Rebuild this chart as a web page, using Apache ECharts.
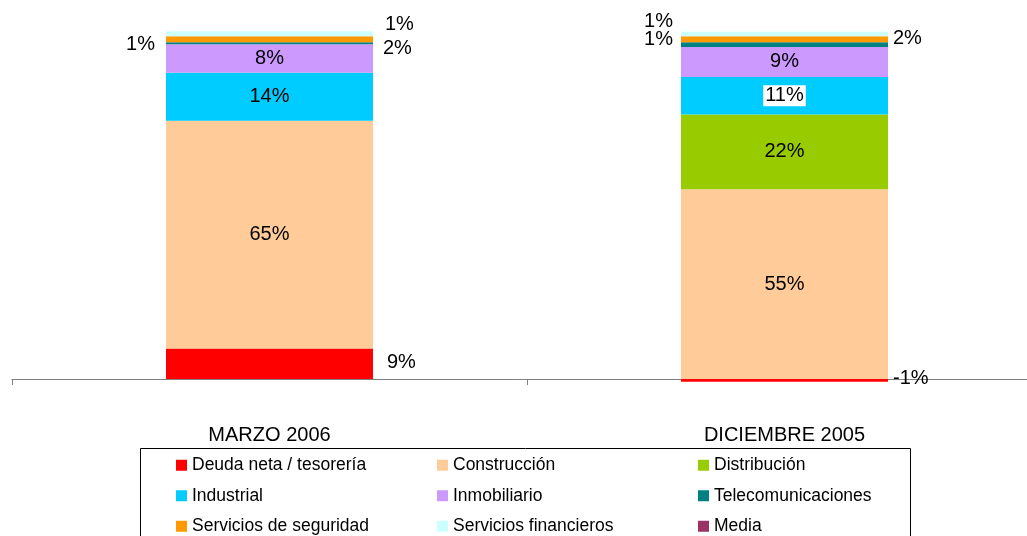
<!DOCTYPE html>
<html>
<head>
<meta charset="utf-8">
<script src="https://cdn.jsdelivr.net/npm/echarts@6/dist/echarts.min.js"></script>
<style>
  html, body { margin: 0; padding: 0; background: #fff; }
  #chart { width: 1027px; height: 536px; }
</style>
</head>
<body>
<div id="chart"></div>
<script>
// categorías
var categories = ['MARZO 2006', 'DICIEMBRE 2005'];

// valores (%)
var deuda = [8.8, -0.8];
var construccion = [65.4, 54.5];
var distribucion = [null, 21.5];
var industrial = [13.8, 10.8];
var inmobiliario = [8.2, 8.6];
var telecomunicaciones = [0.6, 1.4];
var seguridad = [1.7, 1.7];
var financieros = [1.4, 1.3];
var media = [null, null];

var seriesNames = ['Deuda neta / tesorería', 'Construcción', 'Distribución', 'Industrial',
    'Inmobiliario', 'Telecomunicaciones', 'Servicios de seguridad', 'Servicios financieros', 'Media'];
var seriesData = [deuda, construccion, distribucion, industrial, inmobiliario,
    telecomunicaciones, seguridad, financieros, media];
var colors = ['#FF0000', '#FFCC99', '#99CC00', '#00CCFF', '#CC99FF', '#008080', '#FF9900', '#CCFFFF', '#993366'];

// colocación de etiquetas fuera de la barra (null = dentro)
var labelSpec = {
    'Deuda neta / tesorería': [{ position: 'right', distance: 14, offset: [0, -1] }, { position: 'right', distance: 5, offset: [0, -2] }],
    'Industrial': [null, { backgroundColor: '#fff', padding: [1, 2, 0, 2] }],
    'Telecomunicaciones': [{ position: 'left', distance: 11, offset: [0, 1] }, { position: 'left', distance: 8, offset: [0, -5] }],
    'Servicios de seguridad': [{ position: 'right', distance: 10, offset: [0, 9] }, { position: 'right', distance: 5, offset: [0, -1] }],
    'Servicios financieros': [{ position: 'right', distance: 12, offset: [0, -9] }, { position: 'left', distance: 8, offset: [0, -12] }]
};

var font = '"Liberation Sans", Arial, sans-serif';

var series = seriesNames.map(function (name, i) {
    var specs = labelSpec[name] || [];
    return {
        name: name,
        type: 'bar',
        stack: 'total',
        barWidth: 207,
        itemStyle: { color: colors[i] },
        label: {
            show: true,
            position: 'inside',
            color: '#000',
            fontSize: 20,
            fontFamily: font,
            formatter: function (p) { return Math.round(p.value) + '%'; }
        },
        data: seriesData[i].map(function (v, j) {
            var item = { value: v };
            if (specs[j]) item.label = specs[j];
            return item;
        })
    };
});

var chart = echarts.init(document.getElementById('chart'));
chart.setOption({
    animation: false,
    grid: { left: 12, width: 1030, top: 31, bottom: 150, outerBoundsMode: 'none', containLabel: false },
    xAxis: {
        type: 'category',
        data: categories,
        axisLine: { lineStyle: { color: '#808080', width: 1 } },
        axisTick: { show: true, length: 6, lineStyle: { color: '#808080' } },
        axisLabel: { margin: 39, color: '#000', fontSize: 20, fontFamily: font }
    },
    yAxis: {
        type: 'value',
        min: -2,
        max: 100,
        show: false,
        splitLine: { show: false }
    },
    legend: {
        left: 171,
        top: 450,
        width: 800,
        itemWidth: 11,
        itemHeight: 11,
        itemGap: 10,
        icon: 'rect',
        data: seriesNames,
        textStyle: { color: '#000', fontSize: 17.5, fontFamily: font, width: 235, lineHeight: 20.5 }
    },
    graphic: [{
        type: 'rect',
        shape: { x: 140.5, y: 448.5, width: 770, height: 100 },
        style: { fill: 'none', stroke: '#000', lineWidth: 1 },
        silent: true
    }],
    series: series
});
</script>
</body>
</html>
